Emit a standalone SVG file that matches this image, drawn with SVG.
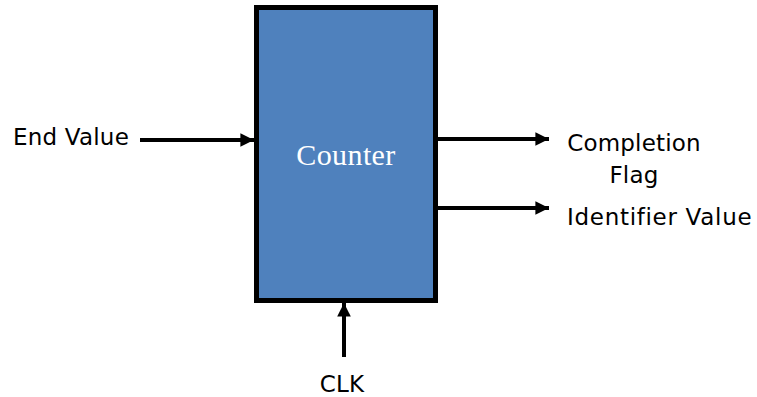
<svg xmlns="http://www.w3.org/2000/svg" width="757" height="397" viewBox="0 0 757 397">
  <style>
    .lbl { font-family: "DejaVu Sans", Verdana, sans-serif; font-size: 23px; letter-spacing: 0.2px; fill: #000; }
    .wide { letter-spacing: 0.7px; }
    .title { font-family: "Liberation Serif", "Times New Roman", serif; font-size: 30px; letter-spacing: 0.4px; fill: #fff; }
    .wire { stroke: #000; stroke-width: 4; fill: none; marker-end: url(#head); }
  </style>
  <defs>
    <marker id="head" viewBox="0 0 10 10" refX="10" refY="5" markerWidth="3.6" markerHeight="3.4" markerUnits="strokeWidth" orient="auto">
      <path d="M0,0 L10,5 L0,10 z" fill="#000"/>
    </marker>
  </defs>

  <g id="counter">
    <rect x="256.5" y="7.5" width="179" height="293" fill="#4F81BD" stroke="#000" stroke-width="5"/>
    <text class="title" x="346" y="165" text-anchor="middle">Counter</text>
  </g>

  <g id="end-value">
    <text class="lbl" x="13" y="145">End Value</text>
  </g>
  <g id="completion-flag">
    <text class="lbl" x="634" y="151" text-anchor="middle">Completion</text>
    <text class="lbl" x="634" y="183" text-anchor="middle">Flag</text>
  </g>
  <g id="identifier-value">
    <text class="lbl wide" x="567" y="225">Identifier Value</text>
  </g>
  <g id="clk">
    <text class="lbl" x="342" y="392" text-anchor="middle">CLK</text>
  </g>

  <g id="connectors">
    <line class="wire" x1="140" y1="140" x2="254" y2="140"/>
    <line class="wire" x1="438" y1="139" x2="549" y2="139"/>
    <line class="wire" x1="438" y1="208" x2="549" y2="208"/>
    <line class="wire" x1="344" y1="357" x2="344" y2="303"/>
  </g>
</svg>
